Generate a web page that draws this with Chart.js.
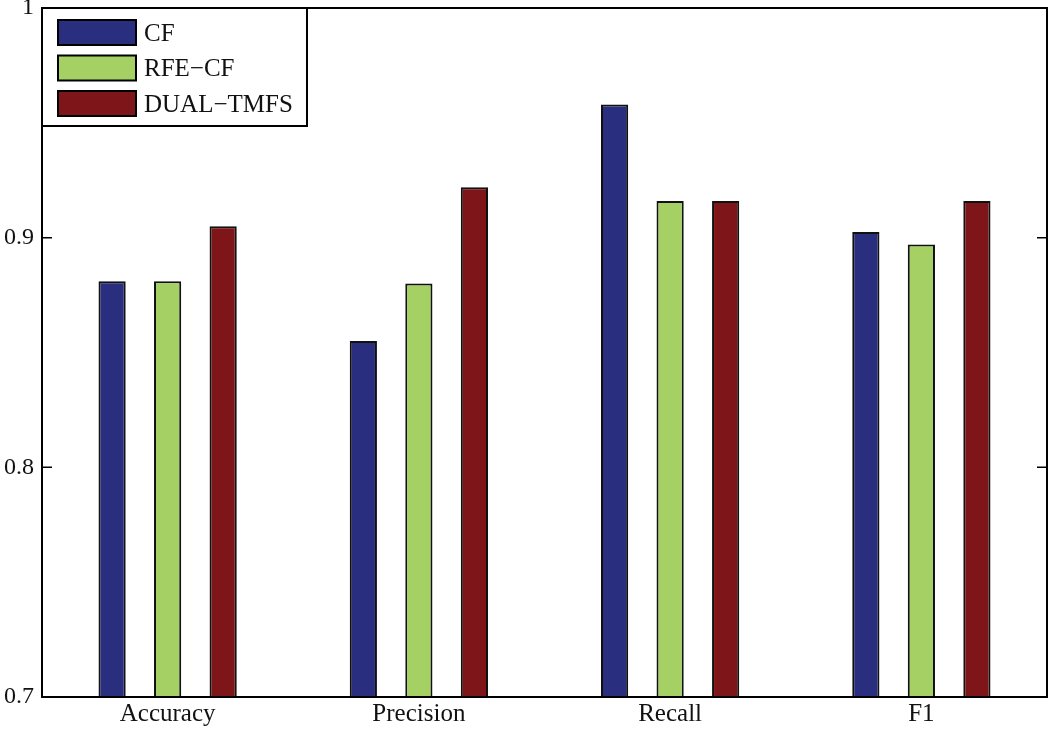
<!DOCTYPE html>
<html>
<head>
<meta charset="utf-8">
<script src="https://cdn.jsdelivr.net/npm/chart.js@4.4.0/dist/chart.umd.min.js"></script>
<style>
  html, body { margin: 0; padding: 0; background: #fff; }
  #wrap { width: 1050px; height: 730px; }
</style>
</head>
<body>
<div id="wrap"><canvas id="chart" width="1050" height="730"></canvas></div>
<script>
const categories = ["Accuracy", "Precision", "Recall", "F1"];
const seriesNames = ["CF", "RFE\u2212CF", "DUAL\u2212TMFS"];
const cfValues = [0.881, 0.855, 0.958, 0.9025];
const rfeValues = [0.881, 0.880, 0.916, 0.897];
const dualValues = [0.905, 0.922, 0.916, 0.916];
const yTicks = [0.7, 0.8, 0.9, 1];
const colors = ["#2a2e7e", "#a4d064", "#7e1518"];

const serif = "'Liberation Serif', 'DejaVu Serif', serif";

// frame + inside tick marks, matlab style
const framePlugin = {
  id: "frame",
  afterDatasetsDraw(chart) {
    const { ctx, chartArea: a, scales } = chart;
    ctx.save();
    ctx.strokeStyle = "#000";
    ctx.lineWidth = 2;
    ctx.strokeRect(a.left, a.top, a.right - a.left, a.bottom - a.top);
    ctx.lineWidth = 1.5;
    yTicks.forEach((v) => {
      const y = scales.y.getPixelForValue(v);
      ctx.beginPath();
      ctx.moveTo(a.left, y);
      ctx.lineTo(a.left + 10, y);
      ctx.moveTo(a.right, y);
      ctx.lineTo(a.right - 10, y);
      ctx.stroke();
    });
    ctx.restore();
  },
};

const legendPlugin = {
  id: "boxLegend",
  afterDraw(chart) {
    const { ctx, chartArea: a } = chart;
    const x = a.left, y = a.top, w = 265, h = 118;
    ctx.save();
    ctx.fillStyle = "#fff";
    ctx.fillRect(x, y, w, h);
    ctx.strokeStyle = "#000";
    ctx.lineWidth = 2;
    ctx.strokeRect(x, y, w, h);
    ctx.font = "25px " + serif;
    ctx.textBaseline = "middle";
    chart.data.datasets.forEach((ds, i) => {
      const sy = y + 12 + i * 35.5;
      ctx.fillStyle = ds.backgroundColor;
      ctx.fillRect(x + 16, sy, 78, 25);
      ctx.lineWidth = 2;
      ctx.strokeRect(x + 16, sy, 78, 25);
      ctx.fillStyle = "#111";
      ctx.fillText(ds.label, x + 102, sy + 14);
    });
    ctx.restore();
  },
};

const datasets = [cfValues, rfeValues, dualValues].map((vals, i) => ({
  label: seriesNames[i],
  data: vals,
  backgroundColor: colors[i],
  borderColor: "#111",
  borderWidth: 2,
  borderSkipped: false,
  categoryPercentage: 0.663,
  barPercentage: 0.49,
}));

new Chart(document.getElementById("chart"), {
  type: "bar",
  data: { labels: categories, datasets },
  options: {
    responsive: false,
    animation: false,
    layout: { padding: { top: 8, right: 3, left: 0, bottom: 0 } },
    plugins: { legend: { display: false }, tooltip: { enabled: false } },
    scales: {
      x: {
        grid: { display: false, drawTicks: false },
        border: { display: false },
        ticks: { color: "#111", font: { family: serif, size: 25 }, padding: 2 },
        afterFit(scale) { scale.height = 33; scale.paddingLeft = 0; scale.paddingRight = 0; },
      },
      y: {
        min: 0.7,
        max: 1,
        afterBuildTicks(scale) { scale.ticks = yTicks.map((v) => ({ value: v })); },
        grid: { display: false, drawTicks: false },
        border: { display: false },
        ticks: {
          color: "#111",
          font: { family: serif, size: 24 },
          padding: 8,
          callback(value) { return value === 1 ? "1" : value.toFixed(1); },
        },
        afterFit(scale) { scale.width = 42; scale.paddingTop = 0; scale.paddingBottom = 0; },
      },
    },
  },
  plugins: [framePlugin, legendPlugin],
});
</script>
</body>
</html>
